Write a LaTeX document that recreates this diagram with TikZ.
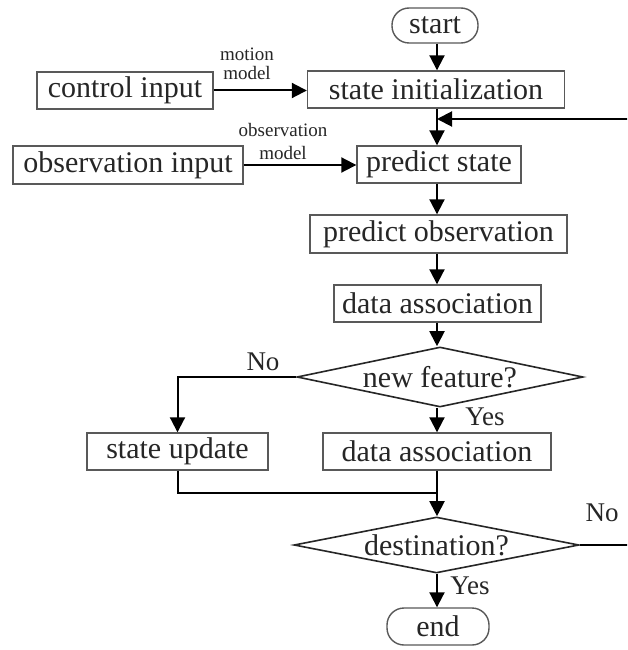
\documentclass[tikz,border=0pt]{standalone}
\usepackage{fontspec}
\setmainfont{Liberation Serif}
\usetikzlibrary{arrows.meta,shapes.geometric}
\begin{document}
\begin{tikzpicture}[x=1pt,y=-1pt,
  txt/.style={font=\fontsize{30}{30}\selectfont,text=black!85,inner sep=0pt},
  box/.style={txt,draw=black!65,line width=1.4pt},
  term/.style={box,rounded corners=17pt},
  dec/.style={draw=black!85,line width=1.6pt,shape=diamond,inner sep=0pt},
  flow/.style={draw=black,line width=2pt,-{Triangle[length=15pt,width=15pt]}},
  plain/.style={draw=black,line width=2pt},
  lbl/.style={font=\fontsize{19}{19}\selectfont,text=black!85,align=center,inner sep=0pt},
  yn/.style={font=\fontsize{27}{27}\selectfont,text=black!85,inner sep=0pt}]
\useasboundingbox (0,0) rectangle (627,650);
\clip (0,0) rectangle (627,650);
\fill[white] (0,0) rectangle (627,650);
% nodes
\node[term,minimum width=86pt,minimum height=35pt] (start) at (435,25.5) {start};
\node[box,minimum width=176pt,minimum height=37pt] (ctrl) at (125,90.5) {control input};
\node[box,minimum width=257pt,minimum height=37pt] (init) at (436,89.5) {state initialization};
\node[box,minimum width=230pt,minimum height=38pt] (obs) at (128,165) {observation input};
\node[box,minimum width=164pt,minimum height=37pt] (pred) at (439,164.5) {predict state};
\node[box,minimum width=257pt,minimum height=38pt] (pobs) at (438.5,234) {predict observation};
\node[box,minimum width=207pt,minimum height=37pt] (da1) at (437.5,303.5) {data association};
\node[dec,minimum width=286pt,minimum height=60pt] (nf) at (440,377) {};
\node[txt] (nft) at (nf.center) {new feature?};
\node[box,minimum width=181pt,minimum height=37pt] (su) at (177.5,451.5) {state update};
\node[box,minimum width=228pt,minimum height=37pt] (da2) at (437,451.5) {data association};
\node[dec,minimum width=285pt,minimum height=56pt] (dst) at (436.5,545) {};
\node[txt] (dstt) at (dst.center) {destination?};
\node[term,minimum width=102pt,minimum height=37pt] (end) at (438,626.5) {end};
% labels
\node[lbl] (mm) at (247,63.5) {motion\\model};
\node[lbl] (om) at (283,141.5) {observation\\[4pt]model};
\node[yn] (no1) at (263,362) {No};
\node[yn] (yes1) at (485,417) {Yes};
\node[yn] (no2) at (602,513) {No};
\node[yn] (yes2) at (470,586) {Yes};
% helper coordinates
\coordinate (ax) at (437,0);
\coordinate (mrg) at (437,493);
\coordinate (fbx) at (629,0);
\coordinate (fbin) at (437,119);
% connectors
\draw[flow] (start.south -| ax) -- (init.north -| ax);
\draw[flow] (ctrl.east) -- (ctrl.east -| init.west);
\draw[flow] (init.south -| ax) -- (pred.north -| ax);
\draw[flow] (obs.east) -- (obs.east -| pred.west);
\draw[flow] (pred.south -| ax) -- (pobs.north -| ax);
\draw[flow] (pobs.south -| ax) -- (da1.north -| ax);
\draw[flow] (da1.south -| ax) -- (nf.north -| ax);
\draw[flow] (nf.south -| ax) -- (da2.north -| ax);
\draw[flow] (nf.west) -| (su.north);
\draw[plain] (su.south) |- (mrg);
\draw[flow] (da2.south -| ax) -- (dst.north -| ax);
\draw[flow] (dst.south -| ax) -- (end.north -| ax);
\draw[flow] (dst.east) -- (dst.east -| fbx) |- (fbin);
\end{tikzpicture}
\end{document}
